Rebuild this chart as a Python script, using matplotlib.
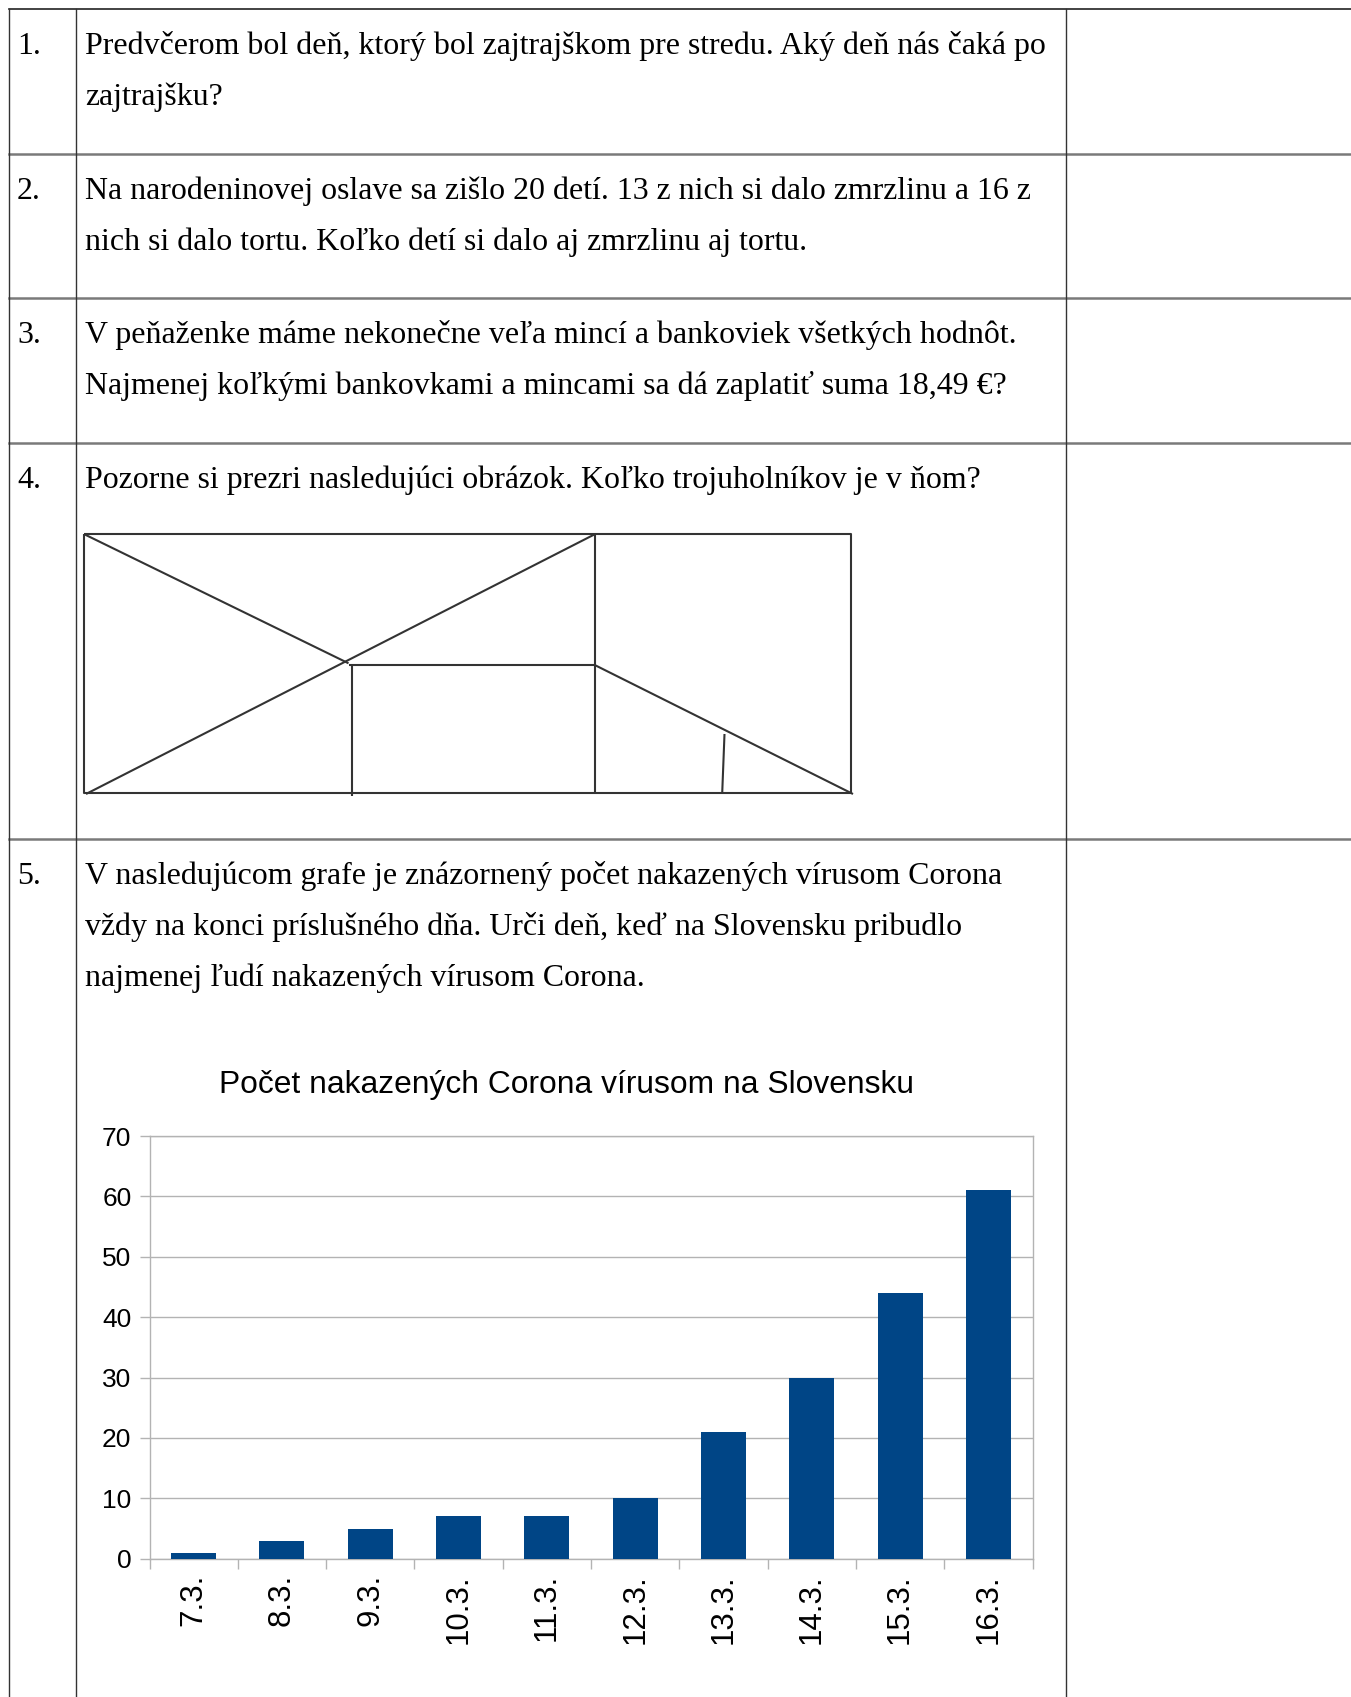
import numpy as np
import matplotlib
matplotlib.use("Agg")
import matplotlib.pyplot as plt

W, H = 1351, 1697

# chart data
days = ['7.3.', '8.3.', '9.3.', '10.3.', '11.3.', '12.3.', '13.3.', '14.3.', '15.3.', '16.3.']
cases = [1, 3, 5, 7, 7, 10, 21, 30, 44, 61]
title = 'Počet nakazených Corona vírusom na Slovensku'

# worksheet text
numbers = ['1.', '2.', '3.', '4.', '5.']
questions = [
    ['Predvčerom bol deň, ktorý bol zajtrajškom pre stredu. Aký deň nás čaká po',
     'zajtrajšku?'],
    ['Na narodeninovej oslave sa zišlo 20 detí. 13 z nich si dalo zmrzlinu a 16 z',
     'nich si dalo tortu. Koľko detí si dalo aj zmrzlinu aj tortu.'],
    ['V peňaženke máme nekonečne veľa mincí a bankoviek všetkých hodnôt.',
     'Najmenej koľkými bankovkami a mincami sa dá zaplatiť suma 18,49 €?'],
    ['Pozorne si prezri nasledujúci obrázok. Koľko trojuholníkov je v ňom?'],
    ['V nasledujúcom grafe je znázornený počet nakazených vírusom Corona',
     'vždy na konci príslušného dňa. Urči deň, keď na Slovensku pribudlo',
     'najmenej ľudí nakazených vírusom Corona.'],
]

# table layout (pixels)
row_tops = [9.3, 154, 298.3, 442.7, 839.3]
col_x = [8.5, 76, 1066]

# triangle picture segments (pixels)
picture = [
    [(84.4, 534.3), (851.3, 534.3), (851.3, 793.3), (84.4, 793.3), (84.4, 534.3)],
    [(84.4, 534.3), (348.5, 663.3)],
    [(86, 794), (594.7, 534.3)],
    [(594.7, 534.3), (594.7, 793.3)],
    [(348.5, 665), (594.7, 665)],
    [(352, 665), (352, 796)],
    [(594.7, 665), (853, 794)],
    [(724.5, 734), (722.2, 793.3)],
]

fig = plt.figure(figsize=(W / 100, H / 100), dpi=100)
bg = fig.add_axes([0, 0, 1, 1])
bg.set_xlim(0, W)
bg.set_ylim(H, 0)
bg.axis('off')

# table grid
bg.plot([col_x[0], W], [row_tops[0]] * 2, color='#222222', lw=1.2)
for y in row_tops[1:]:
    bg.plot([col_x[0], W], [y, y], color='#7a7a7a', lw=1.8)
for x in col_x:
    bg.plot([x, x], [row_tops[0], H], color='#333333', lw=1.0)

serif = ['Liberation Serif', 'DejaVu Serif']
for top, num, lines in zip(row_tops, numbers, questions):
    base = top + 45
    bg.text(17, base, num, family=serif, fontsize=22.96, va='baseline', ha='left')
    for i, line in enumerate(lines):
        bg.text(85, base + i * 50.8, line, family=serif, fontsize=22.96,
                va='baseline', ha='left')

for seg in picture:
    xs, ys = zip(*seg)
    bg.plot(xs, ys, color='#333333', lw=1.5, solid_capstyle='butt')

# bar chart
grey = '#b3b3b3'
x0, x1 = 149.5, 1032.5
y0, y1 = 1558.7, 1136
ax = fig.add_axes([x0 / W, (H - y0) / H, (x1 - x0) / W, (y0 - y1) / H])
pos = np.arange(len(days))
ax.bar(pos, cases, width=0.51, color='#004586', zorder=3)
ax.set_xlim(-0.5, len(days) - 0.5)
ax.set_ylim(0, 70)
ax.set_yticks(np.arange(0, 71, 10))
ax.yaxis.grid(True, color=grey, lw=1.0, zorder=0)
ax.set_xticks(pos)
ax.set_xticklabels(days, rotation=90, family='Liberation Sans', fontsize=22.5)
ax.set_xticks(np.arange(-0.5, len(days)), minor=True)
ax.tick_params(axis='x', which='major', length=0, pad=11)
ax.tick_params(axis='x', which='minor', length=7.5, color=grey, width=1.0)
ax.tick_params(axis='y', length=7.5, color=grey, width=1.0, pad=5.5,
               labelsize=19)
for lab in ax.get_yticklabels():
    lab.set_family('Liberation Sans')
for s in ax.spines.values():
    s.set_color(grey)
    s.set_linewidth(1.0)

fig.text(566.7 / W, (H - 1093.3) / H, title, family='Liberation Sans',
         fontsize=22.9, ha='center', va='baseline')

fig.savefig('out.png', dpi=100)
